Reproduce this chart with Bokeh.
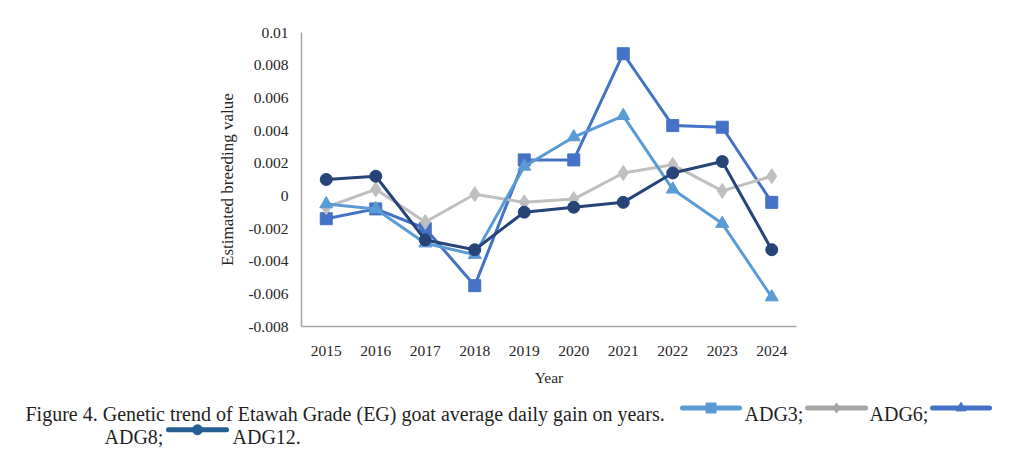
from bokeh.plotting import figure
from bokeh.models import Range1d, FixedTicker, CustomJSTickFormatter
from bokeh.embed import file_html
from bokeh.resources import INLINE
from bokeh.core.properties import value

# ---- data ----
years = [2015, 2016, 2017, 2018, 2019, 2020, 2021, 2022, 2023, 2024]
adg3 = [-0.0005, -0.0008, -0.0029, -0.0036, 0.0018, 0.0036, 0.0049, 0.0004, -0.0017, -0.0062]
adg6 = [-0.0007, 0.0004, -0.0016, 0.0001, -0.0004, -0.0002, 0.0014, 0.0019, 0.0003, 0.0012]
adg8 = [-0.0014, -0.0008, -0.0020, -0.0055, 0.0022, 0.0022, 0.0087, 0.0043, 0.0042, -0.0004]
adg12 = [0.0010, 0.0012, -0.0027, -0.0033, -0.0010, -0.0007, -0.0004, 0.0014, 0.0021, -0.0033]
y_ticks = [-0.008, -0.006, -0.004, -0.002, 0.0, 0.002, 0.004, 0.006, 0.008, 0.01]
series_names = ["ADG3", "ADG6", "ADG8", "ADG12"]
caption = "Figure 4. Genetic trend of Etawah Grade (EG) goat average daily gain on years."

FONT = "Liberation Serif"
TXT = "#262626"
AXC = "#A6A6A6"

PH = 388
p = figure(width=1001, height=PH,
           x_range=Range1d(2014.5, 2024.5), y_range=Range1d(-0.008, 0.01),
           output_backend="svg", toolbar_location=None,
           min_border_left=301, min_border_right=205, min_border_top=32,
           min_border_bottom=PH - 32 - 294)
p.outline_line_color = None
p.grid.grid_line_color = None

for ax in (p.xaxis[0], p.yaxis[0]):
    ax.axis_line_color = AXC
    ax.axis_line_width = 1.5
    ax.major_tick_line_color = None
    ax.minor_tick_line_color = None
    ax.major_tick_out = 0
    ax.major_tick_in = 0
    ax.major_label_text_font = FONT
    ax.major_label_text_font_size = "15.5px"
    ax.major_label_text_color = TXT
    ax.axis_label_text_font = FONT
    ax.axis_label_text_font_style = "normal"
    ax.axis_label_text_color = TXT

p.xaxis.ticker = FixedTicker(ticks=years)
p.xaxis.major_label_standoff = 19
p.xaxis.axis_label = "Year"
p.xaxis.axis_label_text_font_size = "15.5px"
p.xaxis.axis_label_standoff = 10

p.yaxis.ticker = FixedTicker(ticks=y_ticks)
p.yaxis.formatter = CustomJSTickFormatter(code="""
  if (Math.abs(tick) < 1e-9) return "0";
  return tick.toFixed(3).replace(/0+$/, '').replace(/\\.$/, '');
""")
p.yaxis.major_label_standoff = 13
p.yaxis.axis_label = "Estimated breeding value"
p.yaxis.axis_label_text_font_size = "17px"
p.yaxis.axis_label_standoff = 8

LW = 3
# medium blue squares
p.line(years, adg8, line_color="#4472C4", line_width=LW)
p.scatter(years, adg8, marker="square", size=12, fill_color="#4472C4", line_color="#4472C4")
# gray diamonds
p.line(years, adg6, line_color="#BFBFBF", line_width=LW)
p.scatter(years, adg6, marker="diamond", size=15, fill_color="#BFBFBF", line_color="#BFBFBF")
# light blue triangles
p.line(years, adg3, line_color="#5B9BD5", line_width=LW)
p.scatter(years, adg3, marker="triangle", size=13, fill_color="#5B9BD5", line_color="#5B9BD5")
# navy circles
p.line(years, adg12, line_color="#264478", line_width=LW)
p.scatter(years, adg12, marker="circle", size=12, fill_color="#264478", line_color="#264478")

# ---- caption strip with inline legend keys (separate root, pixel coordinates) ----
CH = 449 - PH
c = figure(width=1001, height=CH, x_range=Range1d(0, 1001), y_range=Range1d(CH, 0),
           output_backend="svg", toolbar_location=None,
           min_border=0, min_border_left=0, min_border_right=0, min_border_top=0, min_border_bottom=0)
c.axis.visible = False
c.grid.grid_line_color = None
c.outline_line_color = None

CF = "20px"
CC = "#1f1f1f"
L1 = 413 - PH
L2 = 436 - PH
c.text(x=[25], y=[L1], text=[caption], text_font=value(FONT), text_font_size=CF,
       text_color=CC, text_baseline="alphabetic", text_align="left")

legend_colors = ["#5B9BD5", "#A5A5A5", "#4472C4", "#255E91"]
legend_markers = ["square", "diamond", "triangle", "circle"]
icons = [(682, 739, L1 - 5.5), (807, 865, L1 - 5.5), (932, 989, L1 - 5.5), (168, 226, L2 - 6.7)]
labels = [(744, L1, "ADG3;"), (869, L1, "ADG6;"), (104, L2, "ADG8;"), (232, L2, "ADG12.")]
for (x0, x1, yy), col, mk in zip(icons, legend_colors, legend_markers):
    c.line([x0, x1], [yy, yy], line_color=col, line_width=5, line_cap="round")
    c.scatter([(x0 + x1) / 2], [yy], marker=mk, size=10, fill_color=col, line_color=col)
for (lx, ly, t) in labels:
    c.text(x=[lx], y=[ly], text=[t], text_font=value(FONT), text_font_size=CF,
           text_color=CC, text_baseline="alphabetic", text_align="left")

open("out.html", "w").write(file_html([p, c], INLINE))
